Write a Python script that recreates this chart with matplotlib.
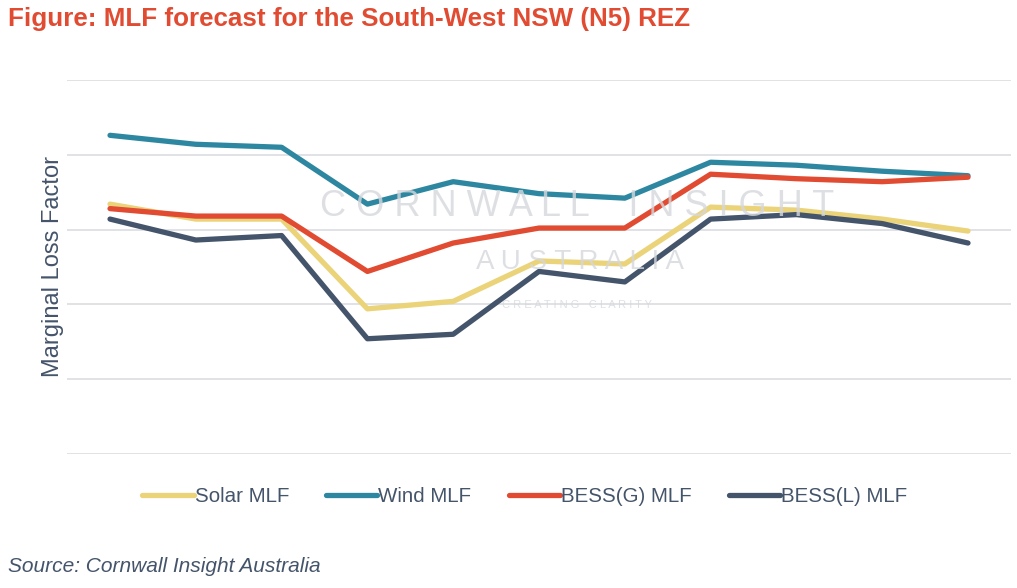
import matplotlib.pyplot as plt

plt.rcParams['font.family'] = ['Liberation Sans', 'DejaVu Sans']

years = ['FY25', 'FY26', 'FY27', 'FY28', 'FY29', 'FY30', 'FY31', 'FY32', 'FY33', 'FY34', 'FY35']
solar = [0.967, 0.957, 0.957, 0.897, 0.902, 0.929, 0.927, 0.965, 0.963, 0.957, 0.949]
wind = [1.013, 1.007, 1.005, 0.967, 0.982, 0.974, 0.971, 0.995, 0.993, 0.989, 0.986]
bess_g = [0.964, 0.959, 0.959, 0.922, 0.941, 0.951, 0.951, 0.987, 0.984, 0.982, 0.985]
bess_l = [0.957, 0.943, 0.946, 0.877, 0.880, 0.922, 0.915, 0.957, 0.960, 0.954, 0.941]

series = [
    ('Solar MLF', solar, '#EBD37A'),
    ('Wind MLF', wind, '#2E87A1'),
    ('BESS(G) MLF', bess_g, '#E04B32'),
    ('BESS(L) MLF', bess_l, '#44546A'),
]

fig = plt.figure(figsize=(10.17, 5.88), dpi=100)
ax = fig.add_axes([0.066, 0.228, 0.928, 0.636])

x = range(len(years))
for name, vals, col in series:
    ax.plot(x, vals, color=col, linewidth=3.8, label=name, solid_capstyle='round')

ax.set_xlim(-0.5, len(years) - 0.5)
ax.set_ylim(0.80, 1.05)
ax.set_yticks([0.80, 0.85, 0.90, 0.95, 1.00, 1.05])
ax.grid(axis='y', color='#DADDE1', linewidth=1.2)
ax.set_axisbelow(True)
ax.tick_params(left=False, bottom=False, labelleft=False, labelbottom=False)
for s in ax.spines.values():
    s.set_visible(False)

ax.set_ylabel('Marginal Loss Factor', fontsize=17, color='#44546A')
ax.yaxis.set_label_coords(-0.003, 0.5)

# watermark
fig.text(0.567, 0.648, 'C O R N W A L L    I N S I G H T', fontsize=26, color='#D5D8DC',
         ha='center', va='center', alpha=0.8, zorder=0)
fig.text(0.57, 0.554, 'A U S T R A L I A', fontsize=20, color='#D5D8DC',
         ha='center', va='center', alpha=0.8, zorder=0)
fig.text(0.567, 0.481, 'C R E A T I N G   C L A R I T Y', fontsize=8, color='#D5D8DC',
         ha='center', va='center', alpha=0.8, zorder=0)

fig.text(0.008, 0.967, 'Figure: MLF forecast for the South-West NSW (N5) REZ',
         fontsize=18.7, fontweight='bold', color='#E04B32', ha='left', va='center')

fig.legend(loc='center', bbox_to_anchor=(0.516, 0.155), ncol=4, frameon=False,
           fontsize=14.8, handlelength=2.5, handletextpad=0.05, columnspacing=1.8,
           labelcolor='#44546A')

fig.text(0.008, 0.037, 'Source: Cornwall Insight Australia', fontsize=15,
         style='italic', color='#44546A', ha='left', va='center')

fig.savefig('out.png', dpi=100)
